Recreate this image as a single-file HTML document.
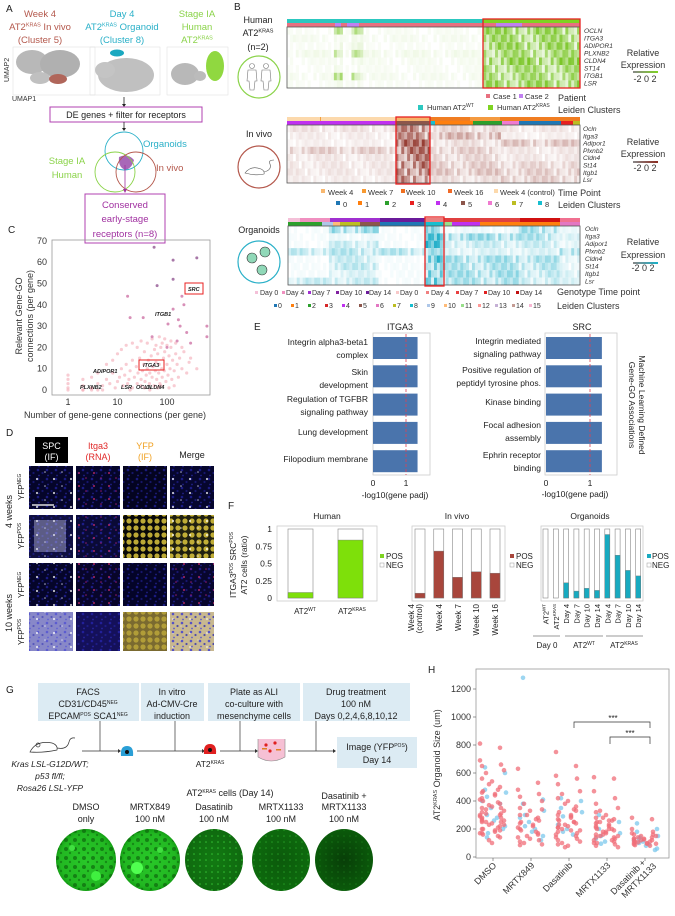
<!DOCTYPE html>
<html><head><meta charset="utf-8"><style>
html,body{margin:0;padding:0;background:#fff;}
svg{display:block;font-family:"Liberation Sans",sans-serif;}
.pl{font-size:10px;fill:#222;}
.t8{font-size:8px;fill:#333;}
.t7{font-size:7px;fill:#333;}
.t9{font-size:9px;fill:#333;}
.gi{font-size:6.6px;font-style:italic;fill:#333;}
</style></head><body>
<svg id="fig" width="675" height="916" viewBox="0 0 675 916">
<defs>
<pattern id="pBlue" width="9" height="9" patternUnits="userSpaceOnUse"><circle cx="2" cy="2" r="1.3" fill="#3030d8"/><circle cx="6.5" cy="5" r="1.1" fill="#2828b0"/><circle cx="3" cy="7.5" r="0.9" fill="#3a3ae0"/></pattern>
<pattern id="pWhite" width="17" height="14" patternUnits="userSpaceOnUse"><circle cx="3" cy="3" r="1.1" fill="#fff"/><circle cx="11" cy="10" r="0.8" fill="#e8e8ff"/></pattern>
<pattern id="pRed" width="15" height="13" patternUnits="userSpaceOnUse"><circle cx="4" cy="5" r="1" fill="#e03070"/><circle cx="11" cy="10" r="0.8" fill="#c02080"/></pattern>
<pattern id="pYel" width="7" height="7" patternUnits="userSpaceOnUse"><circle cx="3" cy="3" r="2.6" fill="#e8d040"/></pattern>
<pattern id="pOrgD" width="9" height="9" patternUnits="userSpaceOnUse"><circle cx="3" cy="3" r="2" fill="#0a5a0a" opacity="0.6"/><circle cx="7" cy="7" r="1.2" fill="#0a5a0a" opacity="0.5"/></pattern>
<pattern id="pOrgS" width="6" height="6" patternUnits="userSpaceOnUse"><circle cx="2" cy="2" r="0.8" fill="#40e040" opacity="0.7"/></pattern>
<radialGradient id="gWell1"><stop offset="0" stop-color="#28c828"/><stop offset="0.85" stop-color="#22b822"/><stop offset="1" stop-color="#15a015"/></radialGradient>
<radialGradient id="gWell2"><stop offset="0" stop-color="#127a12"/><stop offset="1" stop-color="#0f6a0f"/></radialGradient>
<radialGradient id="gWell3"><stop offset="0" stop-color="#0c5a0c"/><stop offset="1" stop-color="#0d6a0d"/></radialGradient>
<radialGradient id="gWell4"><stop offset="0" stop-color="#083e08"/><stop offset="1" stop-color="#0a5a0a"/></radialGradient>
<linearGradient id="lgG"><stop offset="0" stop-color="#888"/><stop offset="1" stop-color="#7ed321"/></linearGradient>
<linearGradient id="lgB"><stop offset="0" stop-color="#888"/><stop offset="1" stop-color="#8b2a1f"/></linearGradient>
<linearGradient id="lgC"><stop offset="0" stop-color="#888"/><stop offset="1" stop-color="#18b0c8"/></linearGradient>
</defs>

<!-- PANEL A -->
<g>
<text class="pl" x="6" y="12">A</text>
<g font-size="9.5" text-anchor="middle" fill="#b4584c">
<text x="40" y="17">Week 4</text><text x="40" y="30">AT2<tspan font-size="5.5" dy="-3.5">KRAS</tspan><tspan dy="3.5"> In vivo</tspan></text><text x="40" y="43">(Cluster 5)</text></g>
<g font-size="9.5" text-anchor="middle" fill="#2ab0c8">
<text x="122" y="17">Day 4</text><text x="122" y="30">AT2<tspan font-size="5.5" dy="-3.5">KRAS</tspan><tspan dy="3.5"> Organoid</tspan></text><text x="122" y="43">(Cluster 8)</text></g>
<g font-size="9.5" text-anchor="middle" fill="#8bd34a">
<text x="197" y="17">Stage IA</text><text x="197" y="30">Human</text><text x="197" y="43">AT2<tspan font-size="5.5" dy="-3.5">KRAS</tspan></text></g>
<g>
<rect x="13" y="47" width="82" height="48" fill="none" stroke="#ddd" stroke-width="0.5"/>
<ellipse cx="32" cy="62" rx="16" ry="12" fill="#b8b8b8"/><ellipse cx="60" cy="64" rx="20" ry="14" fill="#b0b0b0"/><ellipse cx="40" cy="78" rx="10" ry="6" fill="#c0c0c0"/>
<ellipse cx="58" cy="79" rx="9" ry="5" fill="#b0665a"/></g>
<g>
<rect x="90" y="47" width="70" height="48" fill="none" stroke="#ddd" stroke-width="0.5"/>
<ellipse cx="126" cy="75" rx="28" ry="17" fill="#c0c0c0"/><ellipse cx="105" cy="70" rx="10" ry="8" fill="#c4c4c4"/>
<ellipse cx="117" cy="53" rx="7" ry="3.5" fill="#1aa8c0"/></g>
<g>
<rect x="167" y="47" width="61" height="48" fill="none" stroke="#ddd" stroke-width="0.5"/>
<ellipse cx="185" cy="74" rx="14" ry="11" fill="#b8b8b8"/><ellipse cx="200" cy="76" rx="6" ry="5" fill="#bbb"/>
<ellipse cx="215" cy="66" rx="9" ry="15" fill="#90d840"/></g>
<text class="t7" transform="translate(9,82) rotate(-90)">UMAP2</text>
<text class="t7" x="12" y="101">UMAP1</text>
<line x1="124" y1="97" x2="124" y2="105" stroke="#222" stroke-width="0.8"/><path d="M122,104 L124,107 L126,104Z" fill="#222"/>
<rect x="50" y="107" width="152" height="15" fill="#fff" stroke="#b040b0" stroke-width="1"/>
<text x="126" y="118" font-size="9" text-anchor="middle" fill="#222">DE genes + filter for receptors</text>
<line x1="124" y1="122" x2="124" y2="129" stroke="#222" stroke-width="0.8"/><path d="M122,128 L124,131 L126,128Z" fill="#222"/>
<g fill="none" stroke-width="0.9">
<path d="M119,157 Q128,153 134,160 Q132,168 126,170 Q118,168 119,157Z" fill="#a868b8" stroke="none"/>
<circle cx="124" cy="151" r="19" stroke="#2ab0c8"/><circle cx="115" cy="172" r="20" stroke="#8bd34a"/><circle cx="136" cy="172" r="20" stroke="#b4584c"/>
<text x="143" y="147" font-size="9.5" fill="#2ab0c8" stroke="none">Organoids</text>
<text x="67" y="164" font-size="9.5" fill="#8bd34a" stroke="none" text-anchor="middle">Stage IA</text>
<text x="67" y="178" font-size="9.5" fill="#8bd34a" stroke="none" text-anchor="middle">Human</text>
<text x="156" y="171" font-size="9.5" fill="#b4584c" stroke="none">In vivo</text></g>
<line x1="125" y1="165" x2="125" y2="190" stroke="#a030a0" stroke-width="0.8"/><path d="M123,189 L125,193 L127,189Z" fill="#a030a0"/>
<rect x="85" y="194" width="80" height="49" fill="#fff" stroke="#b040b0" stroke-width="1"/>
<g font-size="9.5" fill="#a030a0" text-anchor="middle"><text x="125" y="208">Conserved</text><text x="125" y="222">early-stage</text><text x="125" y="237">receptors (n=8)</text></g>
</g>

<!-- PANEL B -->
<g>
<text class="pl" x="234" y="10">B</text>
<g font-size="9" text-anchor="middle" fill="#222"><text x="258" y="23">Human</text><text x="258" y="36">AT2<tspan font-size="5.5" dy="-3.5">KRAS</tspan></text><text x="258" y="50">(n=2)</text></g>
<g><circle cx="259" cy="77" r="21" fill="none" stroke="#8bd34a" stroke-width="1.2"/>
<g fill="none" stroke="#777" stroke-width="0.6"><circle cx="252" cy="66" r="2.5"/><path d="M248,70 h8 l1,11 h-2 l-1,9 h-4 l-1,-9 h-2z"/><circle cx="266" cy="66" r="2.5"/><path d="M262,70 h8 l1,11 h-2 l-1,9 h-4 l-1,-9 h-2z"/></g></g>
<g font-size="9" text-anchor="middle" fill="#222"><text x="259" y="137">In vivo</text><text x="259" y="233">Organoids</text></g>
<g><circle cx="259" cy="167" r="21" fill="none" stroke="#b4584c" stroke-width="1.2"/>
<path d="M245,173 q6,-8 16,-4 q4,2 3,5 q-8,2 -19,-1z M264,172 q8,-2 6,-8 q-2,-4 4,-4" fill="none" stroke="#555" stroke-width="0.6"/></g>
<g><circle cx="259" cy="262" r="21" fill="none" stroke="#2ab0c8" stroke-width="1.2"/>
<g fill="#90d8b8" stroke="#333" stroke-width="0.6"><circle cx="252" cy="258" r="5"/><circle cx="265" cy="252" r="5"/><circle cx="262" cy="270" r="5"/></g></g>

<g id="hm-human"></g>
<g>
<rect x="287" y="19" width="196" height="4" fill="#2cc8c0"/><rect x="483" y="19" width="97" height="4" fill="#7ed321"/>
<rect x="287" y="23" width="293" height="4" fill="#e87080"/><rect x="335" y="23" width="6" height="4" fill="#c080f0"/><rect x="347" y="23" width="12" height="4" fill="#c080f0"/><rect x="496" y="23" width="26" height="4" fill="#c080f0"/></g>
<rect x="287" y="27" width="293" height="61" fill="none" stroke="#555" stroke-width="0.8"/>
<rect x="483" y="19" width="97" height="69" fill="none" stroke="#e82020" stroke-width="1.3"/>
<g class="gi"><text x="584" y="33" class="gi">OCLN</text><text x="584" y="40.5" class="gi">ITGA3</text><text x="584" y="48" class="gi">ADIPOR1</text><text x="584" y="55.5" class="gi">PLXNB2</text><text x="584" y="63" class="gi">CLDN4</text><text x="584" y="70.5" class="gi">ST14</text><text x="584" y="78" class="gi">ITGB1</text><text x="584" y="85.5" class="gi">LSR</text></g>
<g><text x="643" y="56" class="t9" text-anchor="middle">Relative</text><text x="643" y="68" class="t9" text-anchor="middle">Expression</text><rect x="633" y="71" width="25" height="2" fill="url(#lgG)"/><text x="645" y="82" class="t9" text-anchor="middle">-2 0 2</text></g>
<g font-size="7.5" fill="#333">
<rect x="486" y="94" width="4" height="4" fill="#e87080"/><text x="493" y="99">Case 1</text><rect x="519" y="94" width="4" height="4" fill="#c080f0"/><text x="525" y="99">Case 2</text><text x="558" y="101" font-size="9">Patient</text>
<rect x="418" y="105" width="5" height="5" fill="#2cc8c0"/><text x="427" y="110">Human AT2<tspan font-size="5" dy="-3">WT</tspan></text><rect x="488" y="105" width="5" height="5" fill="#7ed321"/><text x="497" y="110">Human AT2<tspan font-size="5" dy="-3">KRAS</tspan></text><text x="558" y="113" font-size="9">Leiden Clusters</text></g>

<g id="hm-vivo"></g>
<g>
<rect x="287" y="117" width="109" height="4" fill="#fcd9ac"/><rect x="320" y="117" width="1" height="4" fill="#f4a040"/><rect x="396" y="117" width="34" height="4" fill="#f5b36a"/><rect x="430" y="117" width="150" height="4" fill="#f07d22"/><rect x="470" y="117" width="30" height="4" fill="#f49a40"/>
<rect x="287" y="121" width="109" height="4" fill="#c030f0"/><rect x="396" y="121" width="34" height="4" fill="#8c564b"/><rect x="430" y="121" width="5" height="4" fill="#17becf"/><rect x="435" y="121" width="38" height="4" fill="#ff7f0e"/><rect x="473" y="121" width="29" height="4" fill="#2ca02c"/><rect x="502" y="121" width="17" height="4" fill="#f07ad0"/><rect x="519" y="121" width="42" height="4" fill="#1f77b4"/><rect x="561" y="121" width="12" height="4" fill="#e82020"/><rect x="573" y="121" width="7" height="4" fill="#bcbd22"/></g>
<rect x="287" y="125" width="293" height="58" fill="none" stroke="#555" stroke-width="0.8"/>
<rect x="396" y="117" width="34" height="67" fill="none" stroke="#e82020" stroke-width="1.3"/>
<g><text x="583" y="131" class="gi">Ocln</text><text x="583" y="138.3" class="gi">Itga3</text><text x="583" y="145.6" class="gi">Adipor1</text><text x="583" y="152.9" class="gi">Plxnb2</text><text x="583" y="160.2" class="gi">Cldn4</text><text x="583" y="167.5" class="gi">St14</text><text x="583" y="174.8" class="gi">Itgb1</text><text x="583" y="182" class="gi">Lsr</text></g>
<g><text x="643" y="145" class="t9" text-anchor="middle">Relative</text><text x="643" y="157" class="t9" text-anchor="middle">Expression</text><rect x="633" y="161" width="25" height="2" fill="url(#lgB)"/><text x="645" y="171" class="t9" text-anchor="middle">-2 0 2</text></g>
<g font-size="7.5" fill="#333">
<rect x="321" y="189" width="4" height="4" fill="#f8b870"/><text x="328" y="195">Week 4</text><rect x="362" y="189" width="4" height="4" fill="#f89a30"/><text x="368" y="195">Week 7</text><rect x="401" y="189" width="4" height="4" fill="#f07020"/><text x="406" y="195">Week 10</text><rect x="448" y="189" width="4" height="4" fill="#f06a28"/><text x="454" y="195">Week 16</text><rect x="494" y="189" width="4" height="4" fill="#fcd9ac"/><text x="500" y="195">Week 4 (control)</text><text x="558" y="196" font-size="9">Time Point</text>
<rect x="336" y="201" width="4" height="4" fill="#1f77b4"/><text x="343" y="207">0</text><rect x="358" y="201" width="4" height="4" fill="#ff7f0e"/><text x="365" y="207">1</text><rect x="385" y="201" width="4" height="4" fill="#2ca02c"/><text x="392" y="207">2</text><rect x="410" y="201" width="4" height="4" fill="#e82020"/><text x="417" y="207">3</text><rect x="436" y="201" width="4" height="4" fill="#c030f0"/><text x="443" y="207">4</text><rect x="461" y="201" width="4" height="4" fill="#8c564b"/><text x="468" y="207">5</text><rect x="488" y="201" width="4" height="4" fill="#f07ad0"/><text x="495" y="207">6</text><rect x="512" y="201" width="4" height="4" fill="#bcbd22"/><text x="519" y="207">7</text><rect x="538" y="201" width="4" height="4" fill="#17becf"/><text x="545" y="207">8</text><text x="558" y="208" font-size="9">Leiden Clusters</text></g>

<g id="hm-org"></g>
<g>
<rect x="288" y="218" width="12" height="4" fill="#f4c0d8"/><rect x="300" y="218" width="30" height="4" fill="#f090c0"/><rect x="330" y="218" width="50" height="4" fill="#a030d0"/><rect x="380" y="218" width="45" height="4" fill="#6a1a9a"/><rect x="425" y="218" width="19" height="4" fill="#e88080"/><rect x="444" y="218" width="76" height="4" fill="#e04040"/><rect x="520" y="218" width="40" height="4" fill="#d01010"/><rect x="560" y="218" width="20" height="4" fill="#f07090"/>
<rect x="288" y="222" width="34" height="4" fill="#2ca02c"/><rect x="322" y="222" width="11" height="4" fill="#aec7e8"/><rect x="333" y="222" width="7" height="4" fill="#ffbb78"/><rect x="340" y="222" width="20" height="4" fill="#bcbd22"/><rect x="360" y="222" width="20" height="4" fill="#8c564b"/><rect x="380" y="222" width="45" height="4" fill="#1f77b4"/><rect x="425" y="222" width="19" height="4" fill="#17becf"/><rect x="444" y="222" width="8" height="4" fill="#98df8a"/><rect x="452" y="222" width="28" height="4" fill="#c030f0"/><rect x="480" y="222" width="80" height="4" fill="#ff7f0e"/><rect x="560" y="222" width="20" height="4" fill="#e377c2"/></g>
<rect x="288" y="226" width="292" height="59" fill="none" stroke="#555" stroke-width="0.8"/>
<rect x="425" y="217" width="19" height="69" fill="none" stroke="#e82020" stroke-width="1.3"/>
<g><text x="585" y="231" class="gi">Ocln</text><text x="585" y="238.5" class="gi">Itga3</text><text x="585" y="246" class="gi">Adipor1</text><text x="585" y="253.5" class="gi">Plxnb2</text><text x="585" y="261" class="gi">Cldn4</text><text x="585" y="268.5" class="gi">St14</text><text x="585" y="276" class="gi">Itgb1</text><text x="585" y="283.5" class="gi">Lsr</text></g>
<g><text x="643" y="245" class="t9" text-anchor="middle">Relative</text><text x="643" y="258" class="t9" text-anchor="middle">Expression</text><rect x="633" y="262" width="25" height="2" fill="url(#lgC)"/><text x="643" y="271" class="t9" text-anchor="middle">-2 0 2</text></g>
<g font-size="7" fill="#333">
<rect x="255" y="291" width="3" height="3" fill="#f4c0d8"/><text x="260" y="295">Day 0</text><rect x="282" y="291" width="3" height="3" fill="#f090c0"/><text x="286" y="295">Day 4</text><rect x="308" y="291" width="3" height="3" fill="#a030d0"/><text x="312" y="295">Day 7</text><rect x="336" y="291" width="3" height="3" fill="#8020a0"/><text x="340" y="295">Day 10</text><rect x="366" y="291" width="3" height="3" fill="#6a1a9a"/><text x="369" y="295">Day 14</text><rect x="396" y="291" width="3" height="3" fill="#f8c8c8"/><text x="400" y="295">Day 0</text><rect x="426" y="291" width="3" height="3" fill="#f08080"/><text x="431" y="295">Day 4</text><rect x="456" y="291" width="3" height="3" fill="#e84040"/><text x="460" y="295">Day 7</text><rect x="484" y="291" width="3" height="3" fill="#e02020"/><text x="488" y="295">Day 10</text><rect x="516" y="291" width="3" height="3" fill="#c01010"/><text x="520" y="295">Day 14</text><text x="557" y="295" font-size="9">Genotype Time point</text>
</g>
<g id="org-leiden-legend" font-size="7" fill="#333"><text x="557" y="309" font-size="9">Leiden Clusters</text></g>
</g>

<!-- PANEL C -->
<g>
<text class="pl" x="8" y="233">C</text>
<rect x="52" y="240" width="158" height="155" fill="none" stroke="#999" stroke-width="0.8"/>
<g id="c-points"></g>
<g id="c-axes" font-size="9" fill="#333"></g>
<g transform="translate(22,316) rotate(-90)" font-size="9" fill="#333" text-anchor="middle"><text x="0" y="0">Relevant Gene-GO</text><text x="0" y="11">connections (per gene)</text></g>
<text x="115" y="418" font-size="9" fill="#333" text-anchor="middle">Number of gene-gene connections (per gene)</text>
<g font-size="5.5" font-style="italic" font-weight="bold" fill="#222">
<rect x="185" y="283" width="18" height="11" fill="#fff" stroke="#e82020" stroke-width="1"/><text x="188" y="291">SRC</text>
<text x="155" y="316">ITGB1</text>
<rect x="139" y="360" width="25" height="10" fill="none" stroke="#e82020" stroke-width="1"/><text x="143" y="367">ITGA3</text>
<text x="93" y="373">ADIPOR1</text><text x="80" y="389">PLXNB2</text><text x="121" y="389">LSR</text><text x="136" y="389">OCLN</text><text x="146" y="389">CLDN4</text></g>
</g>

<!-- PANEL D -->
<g id="panel-d">
<text class="pl" x="6" y="436">D</text>
<rect x="35" y="437" width="33" height="26" fill="#000"/>
<text x="51.5" y="449" font-size="9" fill="#fff" text-anchor="middle">SPC</text><text x="51.5" y="460" font-size="9" fill="#fff" text-anchor="middle">(IF)</text>
<g font-size="9" text-anchor="middle"><text x="98" y="449" fill="#e02828">Itga3</text><text x="98" y="460" fill="#e02828">(RNA)</text><text x="145" y="449" fill="#f0a020">YFP</text><text x="145" y="460" fill="#f0a020">(IF)</text><text x="192" y="458" fill="#222">Merge</text></g>
<g font-size="8" fill="#222">
<text transform="translate(24,500) rotate(-90)">YFP<tspan font-size="5" dy="-3">NEG</tspan></text>
<text transform="translate(24,549) rotate(-90)">YFP<tspan font-size="5" dy="-3">POS</tspan></text>
<text transform="translate(24,598) rotate(-90)">YFP<tspan font-size="5" dy="-3">NEG</tspan></text>
<text transform="translate(24,645) rotate(-90)">YFP<tspan font-size="5" dy="-3">POS</tspan></text>
<text transform="translate(12,528) rotate(-90)" font-size="9">4 weeks</text>
<text transform="translate(12,632) rotate(-90)" font-size="9">10 weeks</text></g>
<g id="d-images"></g>
</g>

<!-- PANEL E -->
<g id="panel-e">
<text class="pl" x="254" y="330">E</text>
<text x="400" y="330" font-size="9" text-anchor="middle" fill="#222">ITGA3</text>
<text x="582" y="330" font-size="9" text-anchor="middle" fill="#222">SRC</text>
<rect x="373" y="333" width="57" height="142" fill="none" stroke="#ccc" stroke-width="0.8"/>
<rect x="545" y="333" width="72" height="142" fill="none" stroke="#ccc" stroke-width="0.8"/>
<g id="e-bars"></g>
<g font-size="8.5" fill="#222" text-anchor="end">
<text x="368" y="345">Integrin alpha3-beta1</text><text x="368" y="358">complex</text>
<text x="368" y="375">Skin</text><text x="368" y="388">development</text>
<text x="368" y="402">Regulation of TGFBR</text><text x="368" y="415">signaling pathway</text>
<text x="368" y="435">Lung development</text><text x="368" y="462">Filopodium membrane</text></g>
<g font-size="8.5" fill="#222" text-anchor="end">
<text x="541" y="344">Integrin mediated</text><text x="541" y="357">signaling pathway</text>
<text x="541" y="373">Positive regulation of</text><text x="541" y="386">peptidyl tyrosine phos.</text>
<text x="541" y="405">Kinase binding</text>
<text x="541" y="428">Focal adhesion</text><text x="541" y="441">assembly</text>
<text x="541" y="458">Ephrin receptor</text><text x="541" y="471">binding</text></g>
<g font-size="8.5" fill="#222" text-anchor="middle"><text x="395" y="498">-log10(gene padj)</text><text x="575" y="497">-log10(gene padj)</text></g>
<g font-size="8.5" fill="#222" text-anchor="middle">
<text transform="translate(639,405) rotate(90)">Machine Learning Defined</text>
<text transform="translate(629,405) rotate(90)">Gene-GO Associations</text></g>
</g>

<!-- PANEL F -->
<g id="panel-f">
<text class="pl" x="228" y="509">F</text>
<g font-size="8.5" fill="#222" text-anchor="middle"><text x="327" y="519">Human</text><text x="457" y="519">In vivo</text><text x="590" y="519">Organoids</text></g>
<g transform="translate(236,565) rotate(-90)" font-size="8.5" fill="#222" text-anchor="middle"><text x="0" y="0">ITGA3<tspan font-size="5" dy="-3">POS</tspan><tspan dy="3"> SRC</tspan><tspan font-size="5" dy="-3">POS</tspan></text><text x="0" y="11">AT2 cells (ratio)</text></g>
<rect x="277" y="526" width="100" height="75" fill="none" stroke="#ccc" stroke-width="0.8"/>
<rect x="412" y="526" width="93" height="75" fill="none" stroke="#ccc" stroke-width="0.8"/>
<rect x="541" y="526" width="102" height="75" fill="none" stroke="#ccc" stroke-width="0.8"/>
<g id="f-bars"></g>
<g font-size="8" fill="#222">
<rect x="380" y="554" width="4" height="4" fill="#7ed321"/><text x="386" y="559">POS</text><rect x="380" y="563" width="4" height="4" fill="#fff" stroke="#999" stroke-width="0.5"/><text x="386" y="568">NEG</text>
<rect x="510" y="554" width="4" height="4" fill="#a8463c"/><text x="516" y="559">POS</text><rect x="510" y="563" width="4" height="4" fill="#fff" stroke="#999" stroke-width="0.5"/><text x="516" y="568">NEG</text>
<rect x="647" y="554" width="4" height="4" fill="#18aac0"/><text x="652" y="559">POS</text><rect x="647" y="563" width="4" height="4" fill="#fff" stroke="#999" stroke-width="0.5"/><text x="652" y="568">NEG</text></g>
<g font-size="8" fill="#222" text-anchor="middle"><text x="305" y="614">AT2<tspan font-size="5" dy="-3">WT</tspan></text><text x="352" y="614">AT2<tspan font-size="5" dy="-3">KRAS</tspan></text></g>
<g font-size="8" fill="#222" text-anchor="end">
<text transform="translate(414,604) rotate(-90)">Week 4</text><text transform="translate(422,604) rotate(-90)">(control)</text>
<text transform="translate(442,604) rotate(-90)">Week 4</text><text transform="translate(461,604) rotate(-90)">Week 7</text><text transform="translate(479,604) rotate(-90)">Week 10</text><text transform="translate(498,604) rotate(-90)">Week 16</text></g>
<g id="f-org-labels" font-size="7.5" fill="#222" text-anchor="end"></g>
<g stroke="#333" stroke-width="0.6"><line x1="533" y1="636" x2="560" y2="636"/><line x1="565" y1="636" x2="603" y2="636"/><line x1="606" y1="636" x2="643" y2="636"/></g>
<g font-size="8" fill="#222" text-anchor="middle"><text x="547" y="648">Day 0</text><text x="584" y="648">AT2<tspan font-size="5" dy="-3">WT</tspan></text><text x="624" y="648">AT2<tspan font-size="5" dy="-3">KRAS</tspan></text></g>
</g>

<!-- PANEL G -->
<g id="panel-g">
<text class="pl" x="6" y="693">G</text>
<g fill="#dcebf3"><rect x="38" y="683" width="101" height="38"/><rect x="141" y="683" width="63" height="38"/><rect x="208" y="683" width="92" height="38"/><rect x="303" y="683" width="107" height="38"/><rect x="337" y="737" width="80" height="31"/></g>
<g font-size="9" fill="#222" text-anchor="middle">
<text x="88" y="695">FACS</text><text x="88" y="707">CD31/CD45<tspan font-size="5" dy="-3">NEG</tspan></text><text x="88" y="719">EPCAM<tspan font-size="5" dy="-3">POS</tspan><tspan dy="3"> SCA1</tspan><tspan font-size="5" dy="-3">NEG</tspan></text>
<text x="172" y="695">In vitro</text><text x="172" y="707">Ad-CMV-Cre</text><text x="172" y="719">induction</text>
<text x="254" y="695">Plate as ALI</text><text x="254" y="707">co-culture with</text><text x="254" y="719">mesenchyme cells</text>
<text x="356" y="695">Drug treatment</text><text x="356" y="707">100 nM</text><text x="356" y="719">Days 0,2,4,6,8,10,12</text>
<text x="377" y="750">Image (YFP<tspan font-size="5" dy="-3">POS</tspan><tspan dy="3">)</tspan></text><text x="377" y="763">Day 14</text></g>
<g stroke="#333" stroke-width="0.7" fill="none">
<line x1="100" y1="721" x2="100" y2="751"/><line x1="175" y1="721" x2="175" y2="751"/><line x1="240" y1="721" x2="240" y2="751"/><line x1="316" y1="721" x2="316" y2="751"/>
<line x1="82" y1="751" x2="118" y2="751"/><line x1="137" y1="751" x2="202" y2="751"/><line x1="220" y1="751" x2="255" y2="751"/><line x1="288" y1="751" x2="333" y2="751"/></g>
<g fill="#333"><path d="M118,749 L121,751 L118,753Z"/><path d="M202,749 L205,751 L202,753Z"/><path d="M255,749 L258,751 L255,753Z"/><path d="M333,749 L336,751 L333,753Z"/></g>
<g fill="none" stroke="#333" stroke-width="0.7"><path d="M30,752 q6,-12 22,-9 q6,2 5,7 q-14,3 -27,2z"/><path d="M57,748 q10,2 12,-6 q1,-5 6,-4"/><circle cx="38" cy="745" r="2"/></g>
<g font-size="8.5" font-style="italic" fill="#222" text-anchor="middle"><text x="50" y="767">Kras LSL-G12D/WT;</text><text x="50" y="779">p53 fl/fl;</text><text x="50" y="791">Rosa26 LSL-YFP</text></g>
<g><path d="M121,756 q-1,-10 6,-10 q7,0 6,10z" fill="#2a9fd6"/><circle cx="127" cy="752" r="2" fill="#111"/></g>
<g><path d="M204,754 q-1,-10 6,-10 q7,0 6,10z" fill="#e02020"/><circle cx="210" cy="750" r="2" fill="#111"/></g>
<text x="210" y="767" font-size="8.5" fill="#222" text-anchor="middle">AT2<tspan font-size="5" dy="-3">KRAS</tspan></text>
<g><path d="M258,739 v18 q13,8 27,0 v-18" fill="#f6c0d4" stroke="#888" stroke-width="0.6"/><circle cx="266" cy="745" r="1.6" fill="#e02020"/><circle cx="275" cy="743" r="1.6" fill="#e02020"/><circle cx="270" cy="751" r="1.6" fill="#e02020"/><rect x="262" y="748" width="5" height="1.5" fill="#e08020"/><rect x="276" y="749" width="5" height="1.5" fill="#e08020"/></g>
<text x="230" y="796" font-size="9" fill="#222" text-anchor="middle">AT2<tspan font-size="5" dy="-3">KRAS</tspan><tspan dy="3"> cells (Day 14)</tspan></text>
<g font-size="9" fill="#222" text-anchor="middle">
<text x="86" y="810">DMSO</text><text x="86" y="822">only</text>
<text x="150" y="810">MRTX849</text><text x="150" y="822">100 nM</text>
<text x="214" y="810">Dasatinib</text><text x="214" y="822">100 nM</text>
<text x="281" y="810">MRTX1133</text><text x="281" y="822">100 nM</text>
<text x="344" y="799">Dasatinib +</text><text x="344" y="810">MRTX1133</text><text x="344" y="822">100 nM</text></g>
<g>
<ellipse cx="86" cy="860" rx="30" ry="31" fill="url(#gWell1)"/><ellipse cx="86" cy="860" rx="30" ry="31" fill="url(#pOrgD)"/>
<circle cx="96" cy="876" r="5" fill="#40f040"/><circle cx="72" cy="848" r="3" fill="#40e040"/>
<ellipse cx="150" cy="860" rx="30" ry="31" fill="url(#gWell1)"/><ellipse cx="150" cy="860" rx="30" ry="31" fill="url(#pOrgD)"/>
<circle cx="137" cy="868" r="6" fill="#50ff50"/><circle cx="160" cy="850" r="3" fill="#40e040"/>
<ellipse cx="214" cy="860" rx="29" ry="31" fill="url(#gWell2)"/><ellipse cx="214" cy="860" rx="29" ry="31" fill="url(#pOrgS)"/>
<ellipse cx="281" cy="860" rx="29" ry="31" fill="url(#gWell3)"/><ellipse cx="281" cy="860" rx="29" ry="31" fill="url(#pOrgS)" opacity="0.6"/>
<ellipse cx="344" cy="860" rx="29" ry="31" fill="url(#gWell4)"/><ellipse cx="344" cy="860" rx="29" ry="31" fill="url(#pOrgS)" opacity="0.3"/></g>
</g>

<!-- PANEL H -->
<g id="panel-h">
<text class="pl" x="428" y="673">H</text>
<rect x="476" y="669" width="193" height="189" fill="none" stroke="#999" stroke-width="0.8"/>
<g id="h-points"></g>
<g id="h-axes" font-size="9" fill="#333"></g>
<text transform="translate(440,765) rotate(-90)" font-size="9" fill="#333" text-anchor="middle">AT2<tspan font-size="5.5" dy="-3">KRAS</tspan><tspan dy="3"> Organoid Size (um)</tspan></text>
<g stroke="#333" stroke-width="0.7" fill="none"><path d="M574,728 V722 H650 V728"/><path d="M610,744 V737 H650 V744"/></g>
<g font-size="8" fill="#222" text-anchor="middle"><text x="613" y="721">***</text><text x="630" y="736">***</text></g>
</g>
</svg>
<script>
const NS='http://www.w3.org/2000/svg';
function mk(tag, attrs, parent){const e=document.createElementNS(NS,tag);for(const k in attrs)e.setAttribute(k,attrs[k]);parent.appendChild(e);return e;}
function hex(c){return [1,3,5].map(i=>parseInt(c.substr(i,2),16));}
function lerp(a,b,t){const A=hex(a),B=hex(b);return 'rgb('+A.map((v,i)=>Math.round(v+(B[i]-v)*t)).join(',')+')';}

const stripe=[1,0.5,0.85,0.3,0.95,0.6,0.2,0.75,1,0.4,0.65,0.9,0.15,0.8,0.55,0.7,0.35];
const humanGroups=[16,3,3,4,41,33];
const humanInt=[[0.05,0.08,0.05,0.1,0.06,0.05,0.08,0.05],[0.55,0.1,0.15,0.5,0.1,0.1,0.6,0.1],[0.05,0.05,0.05,0.08,0.05,0.05,0.06,0.05],[0.55,0.1,0.15,0.5,0.1,0.1,0.6,0.1],[0.06,0.08,0.05,0.1,0.07,0.06,0.08,0.05],[0.85,0.8,0.85,0.75,0.9,0.75,0.75,0.85]];
const vivoGroups=[37,12,24,27];
const vivoInt=[[0.18,0.12,0.1,0.3,0.15,0.15,0.15,0.12],[0.75,0.7,0.9,0.85,0.8,0.85,0.8,0.75],[0.25,0.45,0.2,0.3,0.25,0.3,0.35,0.2],[0.15,0.1,0.35,0.15,0.15,0.25,0.3,0.3]];
const orgGroups=[14,17,16,6,26,14,7];
const orgInt=[[0.05,0.05,0.05,0.35,0.05,0.05,0.05,0.3],[0.55,0.1,0.3,0.4,0.3,0.35,0.2,0.3],[0.05,0.05,0.05,0.4,0.05,0.05,0.05,0.05],[0.6,0.9,0.95,0.5,0.9,0.8,0.85,0.95],[0.1,0.55,0.3,0.2,0.5,0.45,0.5,0.45],[0.5,0.45,0.3,0.2,0.45,0.4,0.35,0.3],[0.1,0.2,0.15,0.5,0.2,0.15,0.2,0.2]];
function heat(gid,x0,y0,w,h,groups,intens,color,off){
  const g=document.getElementById(gid);
  const total=groups.reduce((a,b)=>a+b,0);const cw=w/total;const rh=h/8;let c=0;
  groups.forEach((n,gi)=>{for(let j=0;j<n;j++,c++){for(let r=0;r<8;r++){
    const v=intens[gi][r]*stripe[(c*7+r*3+off)%stripe.length];
    if(v<0.03)continue;
    const e=mk('rect',{x:(x0+c*cw).toFixed(2),y:(y0+r*rh).toFixed(2),width:(cw+0.3).toFixed(2),height:rh.toFixed(2),fill:lerp('#ffffff',color,Math.min(1,v))},g);
    
    
  }}});
}
heat('hm-human',287,27,293,61,humanGroups,humanInt,'#6cc010',0);
heat('hm-vivo',287,125,293,58,vivoGroups,vivoInt,'#8b2a1f',3);
heat('hm-org',288,226,292,59,orgGroups,orgInt,'#10a8c4',5);

const leidenColors=['#1f77b4','#ff7f0e','#2ca02c','#d62728','#c030f0','#8c564b','#e377c2','#bcbd22','#17becf','#aec7e8','#ffbb78','#98df8a','#ff9896','#c5b0d5','#c49c94','#f7b6d2'];
const leidenLabels=['0','1','2','3','4','5','6','7','8','9','10','11','12','13','14','15'];
(function(){const g=document.getElementById('org-leiden-legend');
leidenLabels.forEach((l,i)=>{const x=274+i*17;
 const r=mk('rect',{x:x,y:304,width:3,height:3,fill:leidenColors[i]},g);
 
 
 const t=mk('text',{x:x+4,y:308},g);t.textContent=l;
 
 });})();

const cLowX=[5,6,7,8,9,10,11,12,13,14,15,16,17,18,20,20,22,24,25,26,28,30,30,32,34,35,36,38,40,42,44,45,48,50,52,55,56,58,60,62,65,68,70,72,75,78,80,85,88,90,95,100,105,110,115,120,125,130,140,150,160,170,180,200,220,250,280,3,4,3,2,2,1,1,1,1,4,6,8,10,12,15,20,25,30,40,50,60,70,80,90,100,120,150,200,300,400,2,3,4,5,1,2,3,18,35,45,65,75,110,140];
const cLowY=[2,5,3,8,1,4,6,10,2,7,12,3,5,9,1,14,6,11,3,8,15,5,2,9,12,18,4,7,10,14,3,8,16,6,11,2,19,9,13,5,17,8,12,3,20,10,6,15,9,18,4,12,7,16,10,20,5,14,9,17,12,6,15,10,18,8,13,1,3,6,2,5,1,3,5,7,8,12,14,17,19,21,22,20,23,22,24,21,25,22,24,21,23,22,20,15,10,0,0,0,0,0,0,1,0,1,0,1,2,1,2];
const cHighX=[55,133,400,133,63,16,200,18,33,133,105,184,250,640,640,160,50,100,220,170,300];
const cHighY=[67,61,62,52,49,44,44,34,34,38,31,30,27,30,25,23,25,20,40,33,22];
function cxs(v){return 68+49.5*Math.log10(v);}
function cys(v){return 390-2.13*v;}
(function(){const g=document.getElementById('c-points');
cLowX.forEach((v,i)=>{const p=mk('circle',{cx:cxs(v).toFixed(1),cy:cys(cLowY[i]).toFixed(1),r:1.6,fill:'#f4aab6','fill-opacity':0.6},g);
 
 });
cHighX.forEach((v,i)=>{const p=mk('circle',{cx:cxs(v).toFixed(1),cy:cys(cHighY[i]).toFixed(1),r:1.5,fill:cHighY[i]>45?'#a878a8':'#d890b8'},g);
 
 });
const a=document.getElementById('c-axes');
const cYTicks=[0,10,20,30,40,50,60,70];
cYTicks.forEach(t=>{const e=mk('text',{x:47,y:cys(t)+3,'text-anchor':'end'},a);e.textContent=t;
 
 });
const cXTicks=[1,10,100];
cXTicks.forEach(t=>{const e=mk('text',{x:cxs(t),y:405,'text-anchor':'middle'},a);e.textContent=t;
 
 });
})();

const dCols=[29,76,123,170];
const dRows=[466,515,563,612];
const dStyles=[
 [['#05052a','pBlue','pWhite'],['#05052a','pBlue','pRed'],['#040420','pBlue',null],['#06062e','pBlue','pWhite']],
 [['#101040','pBlue','pWhite','#d0d0f0'],['#0a0a36','pBlue','pRed'],['#080808','pYel',null],['#202010','pYel','pWhite']],
 [['#05052a','pBlue','pWhite'],['#08052a','pBlue','pRed'],['#040428','pBlue',null],['#08062e','pBlue','pRed']],
 [['#8888c8','pBlue','pWhite'],['#14105a','pBlue',null],['#7a6a30','pYel',null],['#c8b890','pWhite','pBlue']]];
(function(){const g=document.getElementById('d-images');
dRows.forEach((y,ri)=>{dCols.forEach((x,ci)=>{const s=dStyles[ri][ci];const h=ri===3?39:43;
 const bg=mk('rect',{x:x,y:y,width:44,height:h,fill:s[0]},g);
 
 
 if(s[1]){const o=mk('rect',{x:x,y:y,width:44,height:h,fill:'url(#'+s[1]+')',opacity:(ri===1&&ci>=2)?0.8:0.5},g);
  
  }
 if(s[2]){const o=mk('rect',{x:x,y:y,width:44,height:h,fill:'url(#'+s[2]+')',opacity:0.75},g);
  
  }
 if(s[3]){const o=mk('rect',{x:x+5,y:y+5,width:32,height:32,fill:s[3],opacity:0.4},g);
  
  }
});});
const sb=mk('line',{x1:32,y1:505,x2:54,y2:505,stroke:'#ddd','stroke-width':1.5},g);

})();

const itga3Terms=['Integrin alpha3-beta1 complex','Skin development','Regulation of TGFBR signaling pathway','Lung development','Filopodium membrane'];
const itga3Vals=[1.35,1.35,1.35,1.35,1.35];
const srcTerms=['Integrin mediated signaling pathway','Positive regulation of peptidyl tyrosine phos.','Kinase binding','Focal adhesion assembly','Ephrin receptor binding'];
const srcVals=[1.27,1.27,1.27,1.27,1.27];
const eTicks=['0','1'];
(function(){const g=document.getElementById('e-bars');
function panel(vals,x0,unit,top){
 vals.forEach((v,i)=>{const b=mk('rect',{x:x0,y:top+i*28.3,width:v*unit,height:22,fill:'#4a74ac'},g);
  
  });
 const d=mk('line',{x1:x0+unit,y1:334,x2:x0+unit,y2:475,stroke:'#e04050','stroke-width':0.8,'stroke-dasharray':'3,2'},g);
 
 
 eTicks.forEach((t,i)=>{const e=mk('text',{x:x0+i*unit,y:486,'font-size':8.5,'text-anchor':'middle',fill:'#222'},g);e.textContent=t;
  
  });
}
panel(itga3Vals,373,33,337);
panel(srcVals,546,44,337);})();

const humanCats=['AT2WT','AT2KRAS'];
const humanPos=[0.08,0.84];
const vivoCats=['Week 4 (control)','Week 4','Week 7','Week 10','Week 16'];
const vivoPos=[0.07,0.68,0.3,0.38,0.36];
const orgCats=['AT2WT','AT2KRAS','Day 4','Day 7','Day 10','Day 14','Day 4','Day 7','Day 10','Day 14'];
const orgPos=[0,0,0.22,0.1,0.14,0.11,0.92,0.62,0.4,0.32];
const fTicks=[0,0.25,0.5,0.75,1];
const fTickLabels=['0','0.25','0.5','0.75','1'];
function fy(v){return 598-69*v;}
(function(){const g=document.getElementById('f-bars');
function bars(vals,x0,step,w,color){
 vals.forEach((v,i)=>{const x=x0+i*step;
  const n=mk('rect',{x:x,y:fy(1),width:w,height:fy(0)-fy(1),fill:'#fff',stroke:'#888','stroke-width':0.6},g);
  
  
  if(v>0){const p=mk('rect',{x:x,y:fy(v),width:w,height:fy(0)-fy(v),fill:color,stroke:'#777','stroke-width':0.4},g);
  
  }});
}
bars(humanPos,288,50,25,'#7ee00a');
bars(vivoPos,415,18.75,10,'#a8463c');
bars(orgPos,543,10.3,5,'#18aac0');
fTicks.forEach((t,i)=>{const e=mk('text',{x:272,y:fy(t)+3,'font-size':8.5,'text-anchor':'end',fill:'#222'},g);e.textContent=fTickLabels[i];
 
 });
const lg=document.getElementById('f-org-labels');
orgCats.forEach((c,i)=>{const x=543+i*10.3+5.5;
 const t=mk('text',{transform:'translate('+x+',604) rotate(-90)'},lg);
 if(c.startsWith('AT2')){t.textContent='AT2';const ts=mk('tspan',{'font-size':4.5,dy:-3},t);ts.textContent=c.slice(3);}else t.textContent=c;
 
 });
})();

const hCats=['DMSO','MRTX849','Dasatinib','MRTX1133','Dasatinib + MRTX1133'];
const hRed=[
 [810,780,690,660,650,620,600,560,540,520,500,480,470,460,450,440,420,400,390,380,370,360,350,340,330,320,310,300,300,290,280,270,260,250,250,240,230,220,210,200,200,190,180,170,160,150,140,120,100,280,310,230,260,350,410,190,170,250],
 [630,530,480,450,430,400,380,350,330,300,280,270,250,240,230,220,200,190,180,160,150,130,110,100,90,85,260,210,170,140,120,300,340],
 [750,650,580,560,520,470,450,420,400,380,360,340,320,300,290,280,270,260,250,240,230,220,210,200,190,180,170,160,150,140,130,120,110,100,90,80,70,330,250,230,210,190,300],
 [570,560,470,420,380,350,330,320,300,280,270,260,250,240,230,220,210,200,200,190,180,170,160,150,150,140,130,120,110,100,90,80,70,250,220,180,160,140,120,100,280,260,200],
 [280,270,200,180,160,150,140,130,130,120,120,110,110,100,100,95,90,85,80,140,150,125,115,105,95,130,160,170]];
const hBlue=[
 [640,600,480,460,430,400,350,300,280,260,220,200,170,140,380],
 [1280,410,380,330,300,280,250,220,200,180,150,120],
 [420,400,350,320,290,230,200,180,160],
 [300,250,200,170,150,130,110,95],
 [240,200,180,150,130,120,110,100,90,80,60,50,140]];
const hTicks=[0,200,400,600,800,1000,1200];
function hx(i){return 493+i*38;}
function hy(v){return 857-v*0.14;}
(function(){const g=document.getElementById('h-points');
function pts(sets,color,k){sets.forEach((vals,ci)=>{vals.forEach((v,i)=>{const j=((i*i*7+i*13+k)%27)-13;
 const p=mk('circle',{cx:(hx(ci)+j).toFixed(1),cy:hy(v).toFixed(1),r:2.3,fill:color,'fill-opacity':0.75},g);
 
 });});}
pts(hBlue,'#7cc8ec',5);
pts(hRed,'#f06e78',0);
const a=document.getElementById('h-axes');
hTicks.forEach(t=>{const e=mk('text',{x:471,y:hy(t)+3,'text-anchor':'end'},a);e.textContent=t;
 
 
 const l=mk('line',{x1:473,y1:hy(t),x2:476,y2:hy(t),stroke:'#555','stroke-width':0.6},a);
 
 });
hCats.forEach((c,i)=>{const x=hx(i)+4;
 const l=mk('line',{x1:hx(i),y1:858,x2:hx(i),y2:861,stroke:'#555','stroke-width':0.6},a);
 
 
 const t=mk('text',{transform:'translate('+x+',866) rotate(-45)','text-anchor':'end'},a);
 if(c.indexOf('+')>0){const s1=mk('tspan',{x:0,dy:-4},t);s1.textContent='Dasatinib +';const s2=mk('tspan',{x:5,dy:10},t);s2.textContent='MRTX1133';}
 else t.textContent=c;
 
 });
})();
</script>
</body></html>
